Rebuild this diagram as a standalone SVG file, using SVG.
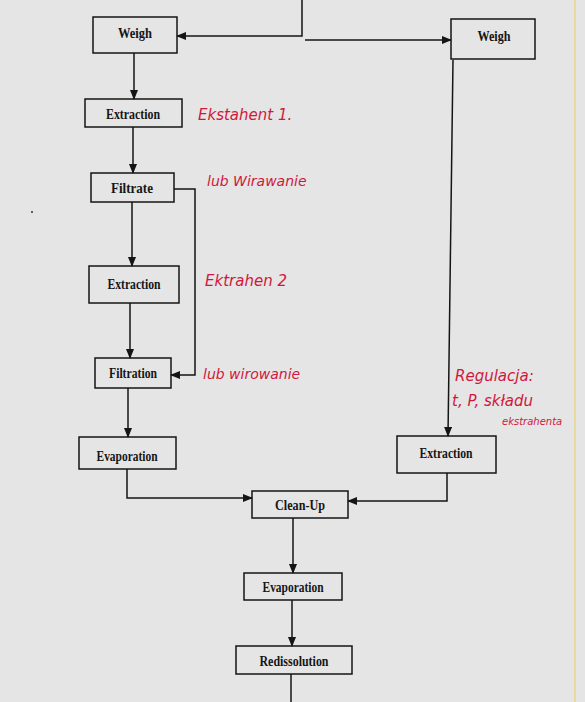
<svg xmlns="http://www.w3.org/2000/svg" width="585" height="702" viewBox="0 0 585 702">
<style>
.box{fill:none;stroke:#151515;stroke-width:1.5}
.lbl{font-family:"Liberation Serif",serif;font-weight:bold;font-size:14px;fill:#151515;text-anchor:middle}
.ln{fill:none;stroke:#151515;stroke-width:1.5}
.hw{font-family:"DejaVu Sans",sans-serif;font-style:italic;fill:#d0183c}
</style>
<defs>
<marker id="ah" markerWidth="10" markerHeight="8" refX="9" refY="4" orient="auto" markerUnits="userSpaceOnUse">
<path d="M0,0 L10,4 L0,8 Z" fill="#151515"/>
</marker>
</defs>
<rect width="585" height="702" fill="#e5e5e5"/>
<line x1="575" y1="0" x2="575" y2="702" stroke="#e6da9c" stroke-width="2"/>
<circle cx="32" cy="212" r="1" fill="#333"/>

<g id="connectors">
<path class="ln" d="M302,0 V36 H177" marker-end="url(#ah)"/>
<path class="ln" d="M305,40 H451" marker-end="url(#ah)"/>
<path class="ln" d="M134,53 V99" marker-end="url(#ah)"/>
<path class="ln" d="M133,127 V173" marker-end="url(#ah)"/>
<path class="ln" d="M132,202 V266" marker-end="url(#ah)"/>
<path class="ln" d="M174,189 H195 V375 H171" marker-end="url(#ah)"/>
<path class="ln" d="M130,303 V358" marker-end="url(#ah)"/>
<path class="ln" d="M128,388 V437" marker-end="url(#ah)"/>
<path class="ln" d="M453,60 L448,436" marker-end="url(#ah)"/>
<path class="ln" d="M127,469 V498 H252" marker-end="url(#ah)"/>
<path class="ln" d="M447,473 V501 H348" marker-end="url(#ah)"/>
<path class="ln" d="M293,518 V573" marker-end="url(#ah)"/>
<path class="ln" d="M292,600 V646" marker-end="url(#ah)"/>
<path class="ln" d="M291,674 V702"/>
</g>

<g id="weigh-left"><rect class="box" x="93" y="17" width="84" height="36"/><text class="lbl" x="135" y="38" textLength="34" lengthAdjust="spacingAndGlyphs">Weigh</text></g>
<g id="weigh-right"><rect class="box" x="451" y="19" width="84" height="40"/><text class="lbl" x="494" y="41" textLength="33" lengthAdjust="spacingAndGlyphs">Weigh</text></g>
<g id="extraction1"><rect class="box" x="85" y="99" width="97" height="28"/><text class="lbl" x="133" y="119" textLength="54" lengthAdjust="spacingAndGlyphs">Extraction</text></g>
<g id="filtrate"><rect class="box" x="91" y="173" width="83" height="29"/><text class="lbl" x="132" y="193" textLength="42" lengthAdjust="spacingAndGlyphs">Filtrate</text></g>
<g id="extraction2"><rect class="box" x="89" y="266" width="90" height="37"/><text class="lbl" x="134" y="289" textLength="53" lengthAdjust="spacingAndGlyphs">Extraction</text></g>
<g id="filtration"><rect class="box" x="95" y="358" width="76" height="30"/><text class="lbl" x="133" y="378" textLength="48" lengthAdjust="spacingAndGlyphs">Filtration</text></g>
<g id="evaporation1"><rect class="box" x="79" y="437" width="97" height="32"/><text class="lbl" x="127" y="461" textLength="61" lengthAdjust="spacingAndGlyphs">Evaporation</text></g>
<g id="extraction3"><rect class="box" x="397" y="436" width="99" height="37"/><text class="lbl" x="446" y="458" textLength="53" lengthAdjust="spacingAndGlyphs">Extraction</text></g>
<g id="cleanup"><rect class="box" x="252" y="491" width="96" height="27"/><text class="lbl" x="300" y="510" textLength="50" lengthAdjust="spacingAndGlyphs">Clean-Up</text></g>
<g id="evaporation2"><rect class="box" x="244" y="573" width="98" height="27"/><text class="lbl" x="293" y="592" textLength="61" lengthAdjust="spacingAndGlyphs">Evaporation</text></g>
<g id="redissolution"><rect class="box" x="236" y="646" width="116" height="28"/><text class="lbl" x="294" y="666" textLength="69" lengthAdjust="spacingAndGlyphs">Redissolution</text></g>

<g id="annotations">
<text class="hw" x="198" y="120" font-size="15">Ekstahent 1.</text>
<text class="hw" x="207" y="186" font-size="14">lub Wirawanie</text>
<text class="hw" x="205" y="286" font-size="15">Ektrahen 2</text>
<text class="hw" x="203" y="379" font-size="14">lub wirowanie</text>
<text class="hw" x="455" y="381" font-size="15">Regulacja:</text>
<text class="hw" x="452" y="406" font-size="15">t, P, składu</text>
<text class="hw" x="502" y="425" font-size="10">ekstrahenta</text>
</g>
</svg>
